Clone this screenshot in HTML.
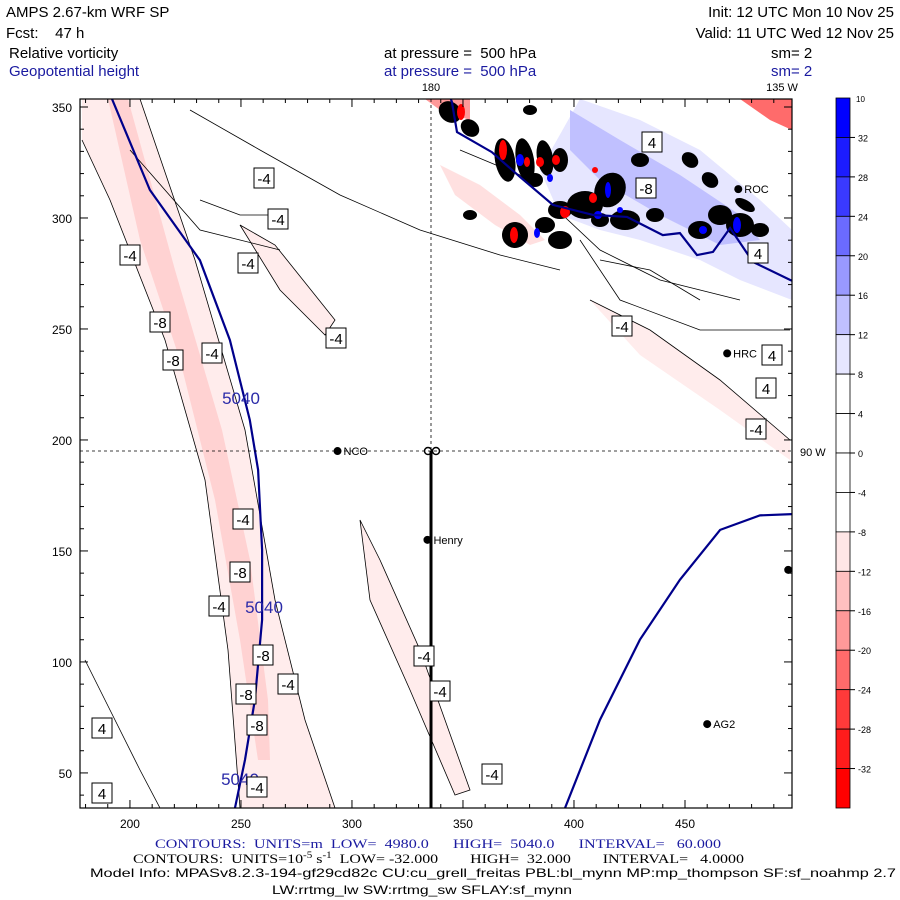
<!DOCTYPE html>
<html><head><meta charset="utf-8"><style>
body{margin:0;background:#fff;}
svg{display:block;font-family:"Liberation Sans",sans-serif;}
text{white-space:pre;}
</style></head><body>
<svg id="c" width="900" height="900" viewBox="0 0 900 900" xmlns="http://www.w3.org/2000/svg">
<g font-size="15">
<text x="6" y="17">AMPS 2.67-km WRF SP</text>
<text x="6" y="38">Fcst:    47 h</text>
<text x="894" y="17" text-anchor="end">Init: 12 UTC Mon 10 Nov 25</text>
<text x="894" y="38" text-anchor="end">Valid: 11 UTC Wed 12 Nov 25</text>
<text x="9" y="58">Relative vorticity</text>
<text x="384" y="58">at pressure =  500 hPa</text>
<text x="771" y="58">sm= 2</text>
<text x="9" y="76" fill="#1a1aa0">Geopotential height</text>
<text x="384" y="76" fill="#1a1aa0">at pressure =  500 hPa</text>
<text x="771" y="76" fill="#1a1aa0">sm= 2</text>
<text x="431" y="91" font-size="11" text-anchor="middle">180</text>
<text x="782" y="91" font-size="11" text-anchor="middle">135 W</text>
<text x="800" y="456" font-size="11">90 W</text>
</g>
<defs><clipPath id="pc"><rect x="80" y="99" width="712" height="709"/></clipPath></defs>
<g id="plot" clip-path="url(#pc)"></g>
<rect x="80" y="99" width="712" height="709" fill="none" stroke="#000" stroke-width="1.2"/>
<g id="axes"></g>
<g id="cbar"></g>
<g font-size="13">
<text x="155" y="848" textLength="566" lengthAdjust="spacingAndGlyphs" fill="#1a1aa0" font-family="Liberation Serif,serif">CONTOURS:  UNITS=m  LOW=  4980.0      HIGH=  5040.0      INTERVAL=   60.000</text>
<text x="133" y="863" textLength="611" lengthAdjust="spacingAndGlyphs" font-family="Liberation Serif,serif">CONTOURS:  UNITS=10<tspan dy="-5" font-size="9">-5</tspan><tspan dy="5"> s</tspan><tspan dy="-5" font-size="9">-1</tspan><tspan dy="5">  LOW= -32.000        HIGH=  32.000        INTERVAL=   4.0000</tspan></text>
<text x="90" y="877" font-size="12" textLength="806" lengthAdjust="spacingAndGlyphs">Model Info: MPASv8.2.3-194-gf29cd82c CU:cu_grell_freitas PBL:bl_mynn MP:mp_thompson SF:sf_noahmp 2.7</text>
<text x="272" y="894" font-size="12" textLength="300" lengthAdjust="spacingAndGlyphs">LW:rrtmg_lw SW:rrtmg_sw SFLAY:sf_mynn</text>
</g>
<script>
// ---- data ----
const xTicks=[200,250,300,350,400,450];
const yTicks=[50,100,150,200,250,300,350];
const cbarLevels=[32,28,24,20,16,12,8,4,0,-4,-8,-12,-16,-20,-24,-28,-32];
const cbarColors=["#0000ff","#1c1cff","#3a3aff","#6b6bff","#9999ff","#c0c0ff","#e6e6ff","#ffffff","#ffffff","#ffffff","#ffffff","#ffe6e6","#ffc0c0","#ff9999","#ff6b6b","#ff3a3a","#ff1c1c","#ff0000"];
const h5040West=[[191.9,353.6],[209,312.6],[231.5,281],[245,245],[254,209],[257.7,186.5],[259.5,150.5],[259.5,119],[256.3,83],[251.8,55.9],[247.3,34.3]];
const h5040North=[[344,355],[345,352.3],[347.3,338.7],[363,329.7],[375.7,318.5],[390.5,305.9],[408.6,301.4],[423.9,300.5],[440,292.3],[447.7,293.2],[455.4,283.3],[462.6,284.7],[470.3,295.5],[480.6,280.2],[497.3,272.1],[500,271]];
const h4980East=[[396,34.3],[411.7,74],[429.7,110],[447.7,137],[465.8,159.5],[483.8,166],[498.2,166.6]];
const stations=[["NCO",293.5,195],["Henry",334,155],["AG2",460,72],["HRC",469,239],["ROC",474,313],["",496.5,141.5]];
// ---- axes ----
const X0=80,X1=792,Y0=99,Y1=808,xmin=177.5,xmax=498.2,ymin=34.2,ymax=353.6;
const sx=v=>X0+(v-xmin)/(xmax-xmin)*(X1-X0);
const sy=v=>Y1-(v-ymin)/(ymax-ymin)*(Y1-Y0);
const NS="http://www.w3.org/2000/svg";
function mk(p,t,a){const e=document.createElementNS(NS,t);for(const k in a)e.setAttribute(k,a[k]);p.appendChild(e);return e;}
const plot=document.getElementById('plot'),axes=document.getElementById('axes'),cb=document.getElementById('cbar');
const ptsD=a=>a.map((p,i)=>(i?'L':'M')+sx(p[0]).toFixed(1)+','+sy(p[1]).toFixed(1)).join('');
const bands=[
 ["M82,99 L140,99 L195,260 L245,430 L275,600 L305,720 L335,808 L240,808 L228,650 L205,480 L165,340 L110,200 L82,140Z","#ffecec"],
 ["M108,99 L128,99 L175,270 L222,430 L250,560 L268,700 L270,760 L258,760 L240,640 L215,500 L180,360 L140,240Z","#ffd2d2"],
 ["M240,225 L275,245 L335,320 L325,335 L280,290Z","#ffecec"],
 ["M360,520 L380,560 L420,650 L470,790 L455,795 L410,690 L370,600Z","#ffecec"],
 ["M590,300 L650,330 L720,380 L790,440 L790,460 L720,410 L640,355Z","#ffecec"],
 ["M440,165 L480,185 L520,215 L545,240 L530,245 L495,225 L455,195Z","#ffe0e0"],
 ["M740,99 L792,99 L792,130 L770,120Z","#ff6b6b"],
 ["M425,99 L470,99 L470,120 L440,110Z","#ff9999"],
 ["M580,99 L640,120 L700,150 L760,200 L792,230 L792,300 L740,280 L700,260 L640,240 L600,230 L560,215 L540,170Z","#e6e6ff"],
 ["M570,110 L620,140 L680,175 L740,215 L760,240 L720,245 L660,215 L600,180 L570,150Z","#c0c0ff"]
];
for(const [d,f] of bands){const e=mk(plot,'path',{d:d,fill:f});

}
const outl=["M82,140 L110,200 L165,340 L205,480 L228,650 L240,808","M140,99 L195,260 L245,430 L275,600 L305,720 L335,808","M240,225 L275,245 L335,320 L325,335 L280,290Z","M360,520 L380,560 L420,650 L470,790 L455,795 L410,690 L370,600Z","M590,300 L650,330 L720,380 L790,440","M190,110 L260,150 L340,195 L420,230 L500,255 L560,270","M200,200 L240,215 L280,215","M130,150 L200,230 L280,250","M85,660 L110,710 L140,770 L160,808","M460,150 L520,175 L600,250 L660,280 L740,300","M580,240 L620,300 L700,330 L790,330","M600,260 L650,270 L700,300"];
for(const d of outl){const e=mk(plot,'path',{d:d,fill:'none',stroke:'#000','stroke-width':0.8});

}
const cells=[[450,112,12,10,40],[470,128,10,8,40],[505,160,10,22,-10],[525,160,9,22,-10],[545,158,8,18,-10],[560,160,8,12,0],[535,180,8,7,0],[560,210,12,9,0],[585,205,18,14,0],[560,240,12,9,0],[515,235,13,13,30],[545,225,10,8,0],[610,190,15,18,30],[625,220,15,10,0],[640,160,9,7,0],[655,215,9,7,0],[600,220,9,7,0],[700,230,12,9,0],[720,215,12,10,0],[740,225,14,12,0],[760,230,9,7,0],[690,160,9,7,40],[710,180,9,7,40],[745,205,11,5,30],[470,215,7,5,0],[530,110,7,5,0]];
for(const [x,y,rx,ry,r] of cells){const e=mk(plot,'ellipse',{cx:x,cy:y,rx:rx,ry:ry,fill:'#000',transform:`rotate(${r} ${x} ${y})`});

}
const spots=[[461,112,4,8,'#f00'],[503,150,4,10,'#f00'],[520,160,4,6,'#00f'],[527,162,3,5,'#f00'],[540,162,4,5,'#f00'],[556,160,4,5,'#f00'],[550,178,3,4,'#00f'],[565,212,5,6,'#f00'],[593,198,4,5,'#f00'],[598,215,4,4,'#00f'],[608,190,3,8,'#00f'],[514,235,4,8,'#f00'],[537,233,3,5,'#00f'],[595,170,3,3,'#f00'],[737,225,4,8,'#00f'],[703,230,4,4,'#00f'],[620,210,3,3,'#00f']];
for(const [x,y,rx,ry,c] of spots){const e=mk(plot,'ellipse',{cx:x,cy:y,rx:rx,ry:ry,fill:c});

}
for(const [arr,nm] of [[h5040West,'height-5040-west'],[h5040North,'height-5040-north'],[h4980East,'height-4980-east']]){
const e=mk(plot,'path',{d:ptsD(arr),fill:'none',stroke:'#00008b','stroke-width':2.2});

}
for(const [x,y] of [[241,404],[264,613],[240,785]]){const t=mk(plot,'text',{x:x,y:y,'font-size':17,fill:'#2a2aa8','text-anchor':'middle'});t.textContent='5040';

}
let e=mk(plot,'line',{x1:431,y1:99,x2:431,y2:451,stroke:'#000','stroke-dasharray':'3,3','stroke-width':0.8});


e=mk(plot,'line',{x1:80,y1:451,x2:792,y2:451,stroke:'#000','stroke-dasharray':'3,3','stroke-width':0.8});


e=mk(plot,'line',{x1:431,y1:451,x2:431,y2:808,stroke:'#000','stroke-width':3});


for(const x of [428,436]){e=mk(plot,'circle',{cx:x,cy:451,r:3.5,fill:'none',stroke:'#000','stroke-width':1.5});

}
const labs=[[264,178,'-4'],[278,219,'-4'],[130,255,'-4'],[248,263,'-4'],[336,338,'-4'],[160,322,'-8'],[173,360,'-8'],[212,353,'-4'],[652,142,'4'],[646,188,'-8'],[758,253,'4'],[622,326,'-4'],[772,355,'4'],[766,388,'4'],[756,429,'-4'],[243,519,'-4'],[240,572,'-8'],[219,606,'-4'],[263,655,'-8'],[424,656,'-4'],[288,684,'-4'],[246,694,'-8'],[440,691,'-4'],[257,725,'-8'],[102,728,'4'],[492,774,'-4'],[257,787,'-4'],[102,793,'4']];
for(const [x,y,s] of labs){const g=mk(plot,'g',{});


mk(g,'rect',{x:x-10,y:y-10,width:20,height:20,fill:'#fff',stroke:'#000','stroke-width':1});
const t=mk(g,'text',{x:x,y:y+6,'font-size':15,'text-anchor':'middle'});t.textContent=s;}
for(const [n,lx,ly] of stations){const x=sx(lx),y=sy(ly);
e=mk(plot,'circle',{cx:x,cy:y,r:4,fill:'#000'});


if(n){const t=mk(plot,'text',{x:x+6,y:y+4,'font-size':11});t.textContent=n;

}}
for(let v=180;v<=490;v+=10){const x=sx(v),L=v%50==0?8:4;
mk(axes,'line',{x1:x,y1:Y1,x2:x,y2:Y1-L,stroke:'#000'});mk(axes,'line',{x1:x,y1:Y0,x2:x,y2:Y0+L,stroke:'#000'});}
for(let v=40;v<=350;v+=10){const y=sy(v),L=v%50==0?8:4;
mk(axes,'line',{x1:X0,y1:y,x2:X0+L,y2:y,stroke:'#000'});mk(axes,'line',{x1:X1,y1:y,x2:X1-L,y2:y,stroke:'#000'});}
for(const v of xTicks){const t=mk(axes,'text',{x:sx(v),y:828,'font-size':12,'text-anchor':'middle'});t.textContent=v;

}
for(const v of yTicks){const t=mk(axes,'text',{x:72,y:sy(v)+5,'font-size':12,'text-anchor':'end'});t.textContent=v;

}
const CB0=98,CBh=(808-98)/cbarColors.length;
cbarColors.forEach((c,i)=>{const r=mk(cb,'rect',{x:836,y:CB0+i*CBh,width:14,height:CBh,fill:c,stroke:'#000','stroke-width':0.8});

});
cbarLevels.forEach((v,i)=>{const y=CB0+(i+1)*CBh;mk(cb,'line',{x1:850,y1:y,x2:855,y2:y,stroke:'#000'});
const t=mk(cb,'text',{x:858,y:y+4,'font-size':9});t.textContent=v;

});
const u=mk(cb,'text',{x:856,y:102,'font-size':8});u.innerHTML='10<tspan dy="-3" font-size="6">-5</tspan><tspan dy="3"> s</tspan><tspan dy="-3" font-size="6">-1</tspan>';


</script>
</svg>
</body></html>
